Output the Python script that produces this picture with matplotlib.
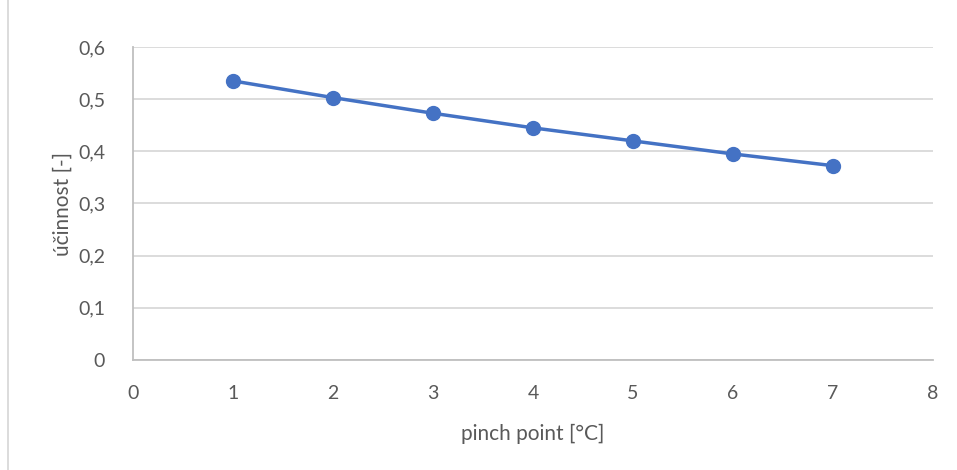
import matplotlib.pyplot as plt
from matplotlib.lines import Line2D
from matplotlib.ticker import FuncFormatter, MultipleLocator

# pinch point vs. efficiency
pinch = [1, 2, 3, 4, 5, 6, 7]
ucinnost = [0.535, 0.503, 0.473, 0.445, 0.420, 0.395, 0.3725]

plt.rcParams['font.family'] = ['Lato', 'DejaVu Sans']
txt = '#595959'
grid = '#d9d9d9'

fig = plt.figure(figsize=(9.57, 4.70), dpi=100)
ax = fig.add_axes([133 / 957, 110 / 470, 800 / 957, 313 / 470])

ax.plot(pinch, ucinnost, '-o', color='#4472c4', lw=2.5, ms=10, zorder=3)

ax.set_xlim(0, 8)
ax.set_ylim(0, 0.6)
ax.xaxis.set_major_locator(MultipleLocator(1))
ax.yaxis.set_major_locator(MultipleLocator(0.1))
ax.yaxis.set_major_formatter(FuncFormatter(lambda v, p: '0' if abs(v) < 1e-9 else f'{v:.1f}'.replace('.', ',')))

ax.grid(axis='y', color=grid, lw=1.3)
ax.set_axisbelow(True)
for s in ['top', 'right']:
    ax.spines[s].set_visible(False)
for s in ['left', 'bottom']:
    ax.spines[s].set_color('#bfbfbf')
    ax.spines[s].set_linewidth(1.3)
ax.tick_params(length=0, labelsize=14, colors=txt)
ax.tick_params(axis='x', pad=18)
ax.tick_params(axis='y', pad=20)

ax.set_xlabel('pinch point [°C]', fontsize=15, color=txt, labelpad=16)
ax.set_ylabel('účinnost [-]', fontsize=15, color=txt, labelpad=4)

# okraj grafu vlevo
fig.add_artist(Line2D([8 / 957, 8 / 957], [0, 1], color=grid, lw=1.3))

fig.savefig('out.png', dpi=100)
